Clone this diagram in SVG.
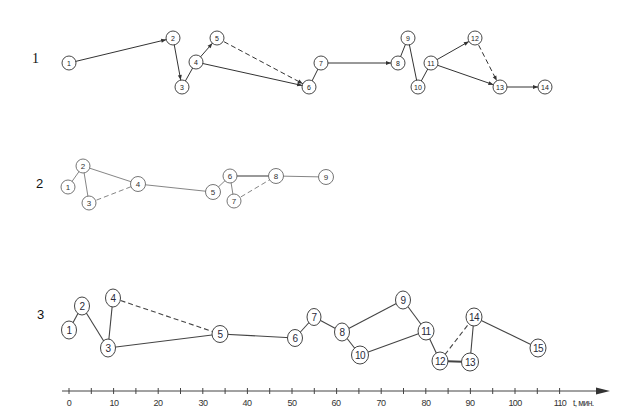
<svg xmlns="http://www.w3.org/2000/svg" width="624" height="419" viewBox="0 0 624 419">
<style>
.bg{fill:#fff}
.n1 circle{fill:#fff;stroke:#333;stroke-width:0.9}
.n1 text{font-family:"Liberation Sans",Arial,sans-serif;font-size:7px;fill:#222;text-anchor:middle;dominant-baseline:central}
.n2 circle{fill:#fff;stroke:#666;stroke-width:0.9}
.n2 text{font-family:"Liberation Sans",Arial,sans-serif;font-size:8px;fill:#333;text-anchor:middle;dominant-baseline:central}
.n3 ellipse{fill:#fff;stroke:#444;stroke-width:1}
.n3 text{font-family:"Liberation Sans",Arial,sans-serif;font-size:10px;fill:#2a2a3a;text-anchor:middle;dominant-baseline:central;letter-spacing:-0.5px}
.e1{stroke:#333;stroke-width:1;fill:none}
.e2{stroke:#777;stroke-width:0.9;fill:none}
.e3{stroke:#444;stroke-width:1.1;fill:none}
.d{stroke-dasharray:5,3}
.ax{stroke:#444;stroke-width:1;fill:none}
.tk{stroke:#444;stroke-width:1}
.al{font-family:"Liberation Sans",Arial,sans-serif;font-size:9px;fill:#333;text-anchor:middle;letter-spacing:-0.6px}
.row{font-family:"Liberation Sans",Arial,sans-serif;font-size:13px;fill:#111}
</style>
<defs>
<marker id="a1" markerUnits="userSpaceOnUse" markerWidth="16" markerHeight="8" refX="12" refY="2" orient="auto" overflow="visible">
<path d="M0,0 L5,2 L0,4 z" fill="#333"/>
</marker>
<marker id="ax" markerUnits="userSpaceOnUse" markerWidth="20" markerHeight="10" refX="0" refY="3.5" orient="auto" overflow="visible">
<path d="M0,0 L14,3.5 L0,7 z" fill="#333"/>
</marker>
</defs>
<rect class="bg" x="0" y="0" width="624" height="419"/>

<text class="row" x="32" y="63" style="font-family:'Liberation Serif',serif;font-size:14px">1</text>
<text class="row" x="36" y="188">2</text>
<text class="row" x="37" y="319">3</text>

<g id="connectors">
<!-- row 1 -->
<line class="e1" x1="69" y1="63" x2="173" y2="38" marker-end="url(#a1)"/>
<line class="e1" x1="173" y1="38" x2="182" y2="87" marker-end="url(#a1)"/>
<line class="e1" x1="182" y1="87" x2="196" y2="62"/>
<line class="e1" x1="196" y1="62" x2="217" y2="38" marker-end="url(#a1)"/>
<line class="e1 d" x1="217" y1="38" x2="309" y2="87" marker-end="url(#a1)"/>
<line class="e1" x1="196" y1="62" x2="309" y2="87" marker-end="url(#a1)"/>
<line class="e1" x1="309" y1="87" x2="321" y2="63"/>
<line class="e1" x1="321" y1="63" x2="398" y2="63" marker-end="url(#a1)"/>
<line class="e1" x1="398" y1="63" x2="408" y2="38"/>
<line class="e1" x1="408" y1="38" x2="418" y2="87"/>
<line class="e1" x1="418" y1="87" x2="431" y2="63"/>
<line class="e1" x1="431" y1="63" x2="475" y2="38" marker-end="url(#a1)"/>
<line class="e1 d" x1="475" y1="38" x2="500" y2="87" marker-end="url(#a1)"/>
<line class="e1" x1="431" y1="63" x2="500" y2="87" marker-end="url(#a1)"/>
<line class="e1" x1="500" y1="87" x2="545" y2="87" marker-end="url(#a1)"/>
<!-- row 2 -->
<line class="e2" x1="68" y1="187" x2="83" y2="166"/>
<line class="e2" x1="83" y1="166" x2="89" y2="203"/>
<line class="e2" x1="83" y1="166" x2="138" y2="184"/>
<line class="e2 d" x1="89" y1="203" x2="138" y2="184"/>
<line class="e2" x1="138" y1="184" x2="213" y2="192"/>
<line class="e2" x1="213" y1="192" x2="230" y2="176"/>
<line class="e2" x1="230" y1="176" x2="234" y2="201"/>
<line class="e2" x1="230" y1="176" x2="276" y2="176" style="stroke-width:1.4"/>
<line class="e2 d" x1="234" y1="201" x2="276" y2="176"/>
<line class="e2" x1="276" y1="176" x2="326" y2="177"/>
<!-- row 3 -->
<line class="e3" x1="69" y1="330" x2="82" y2="306"/>
<line class="e3" x1="82" y1="306" x2="108" y2="348"/>
<line class="e3" x1="108" y1="348" x2="113" y2="298"/>
<line class="e3 d" x1="113" y1="298" x2="220" y2="334"/>
<line class="e3" x1="108" y1="348" x2="220" y2="334"/>
<line class="e3" x1="220" y1="334" x2="295" y2="338"/>
<line class="e3" x1="295" y1="338" x2="314" y2="317"/>
<line class="e3" x1="314" y1="317" x2="342" y2="332"/>
<line class="e3" x1="342" y1="332" x2="403" y2="300"/>
<line class="e3" x1="342" y1="332" x2="360" y2="355"/>
<line class="e3" x1="360" y1="355" x2="426" y2="331"/>
<line class="e3" x1="403" y1="300" x2="426" y2="331"/>
<line class="e3" x1="426" y1="331" x2="440" y2="361"/>
<line class="e3 d" x1="440" y1="361" x2="474" y2="317"/>
<line class="e3" x1="440" y1="361" x2="470" y2="362" style="stroke-width:1.8"/>
<line class="e3" x1="470" y1="362" x2="474" y2="317"/>
<line class="e3" x1="474" y1="317" x2="538" y2="348"/>
</g>

<g class="n1">
<g id="r1n1"><circle cx="69" cy="63" r="7"/><text x="69" y="63">1</text></g>
<g id="r1n2"><circle cx="173" cy="38" r="7"/><text x="173" y="38">2</text></g>
<g id="r1n3"><circle cx="182" cy="87" r="7"/><text x="182" y="87">3</text></g>
<g id="r1n4"><circle cx="196" cy="62" r="7"/><text x="196" y="62">4</text></g>
<g id="r1n5"><circle cx="217" cy="38" r="7"/><text x="217" y="38">5</text></g>
<g id="r1n6"><circle cx="309" cy="87" r="7"/><text x="309" y="87">6</text></g>
<g id="r1n7"><circle cx="321" cy="63" r="7"/><text x="321" y="63">7</text></g>
<g id="r1n8"><circle cx="398" cy="63" r="7"/><text x="398" y="63">8</text></g>
<g id="r1n9"><circle cx="408" cy="38" r="7"/><text x="408" y="38">9</text></g>
<g id="r1n10"><circle cx="418" cy="87" r="7"/><text x="418" y="87">10</text></g>
<g id="r1n11"><circle cx="431" cy="63" r="7"/><text x="431" y="63">11</text></g>
<g id="r1n12"><circle cx="475" cy="38" r="7"/><text x="475" y="38">12</text></g>
<g id="r1n13"><circle cx="500" cy="87" r="7"/><text x="500" y="87">13</text></g>
<g id="r1n14"><circle cx="545" cy="87" r="7"/><text x="545" y="87">14</text></g>
</g>

<g class="n2">
<g id="r2n1"><circle cx="68" cy="187" r="7"/><text x="68" y="187">1</text></g>
<g id="r2n2"><circle cx="83" cy="166" r="7"/><text x="83" y="166">2</text></g>
<g id="r2n3"><circle cx="89" cy="203" r="7"/><text x="89" y="203">3</text></g>
<g id="r2n4"><circle cx="138" cy="184" r="7.5"/><text x="138" y="184">4</text></g>
<g id="r2n5"><circle cx="213" cy="192" r="7.5"/><text x="213" y="192">5</text></g>
<g id="r2n6"><circle cx="230" cy="176" r="7"/><text x="230" y="176">6</text></g>
<g id="r2n7"><circle cx="234" cy="201" r="7"/><text x="234" y="201">7</text></g>
<g id="r2n8"><circle cx="276" cy="176" r="7.5"/><text x="276" y="176">8</text></g>
<g id="r2n9"><circle cx="326" cy="177" r="7.5"/><text x="326" y="177">9</text></g>
</g>

<g class="n3">
<g id="r3n1"><ellipse cx="69" cy="330" rx="7.5" ry="9"/><text x="69" y="330">1</text></g>
<g id="r3n2"><ellipse cx="82" cy="306" rx="7.5" ry="9"/><text x="82" y="306">2</text></g>
<g id="r3n3"><ellipse cx="108" cy="348" rx="7.5" ry="9"/><text x="108" y="348">3</text></g>
<g id="r3n4"><ellipse cx="113" cy="298" rx="7.5" ry="9"/><text x="113" y="298">4</text></g>
<g id="r3n5"><ellipse cx="220" cy="334" rx="8" ry="8.5"/><text x="220" y="334">5</text></g>
<g id="r3n6"><ellipse cx="295" cy="338" rx="7.5" ry="8.5"/><text x="295" y="338">6</text></g>
<g id="r3n7"><ellipse cx="314" cy="317" rx="7" ry="8.5"/><text x="314" y="317">7</text></g>
<g id="r3n8"><ellipse cx="342" cy="332" rx="7.5" ry="9"/><text x="342" y="332">8</text></g>
<g id="r3n9"><ellipse cx="403" cy="300" rx="7.5" ry="9"/><text x="403" y="300">9</text></g>
<g id="r3n10"><ellipse cx="360" cy="355" rx="8.5" ry="9"/><text x="360" y="355">10</text></g>
<g id="r3n11"><ellipse cx="426" cy="331" rx="8" ry="9"/><text x="426" y="331">11</text></g>
<g id="r3n12"><ellipse cx="440" cy="361" rx="8" ry="9"/><text x="440" y="361">12</text></g>
<g id="r3n13"><ellipse cx="470" cy="362" rx="8.5" ry="9"/><text x="470" y="362">13</text></g>
<g id="r3n14"><ellipse cx="474" cy="317" rx="8" ry="9"/><text x="474" y="317">14</text></g>
<g id="r3n15"><ellipse cx="538" cy="348" rx="8" ry="9"/><text x="538" y="348">15</text></g>
</g>

<g id="axis">
<line class="ax" x1="62" y1="391" x2="596" y2="391" marker-end="url(#ax)"/>
<g class="tk">
<line x1="69" y1="388" x2="69" y2="394"/><line x1="91.3" y1="388" x2="91.3" y2="394"/>
<line x1="113.6" y1="388" x2="113.6" y2="394"/><line x1="135.9" y1="388" x2="135.9" y2="394"/>
<line x1="158.2" y1="388" x2="158.2" y2="394"/><line x1="180.5" y1="388" x2="180.5" y2="394"/>
<line x1="202.8" y1="388" x2="202.8" y2="394"/><line x1="225.1" y1="388" x2="225.1" y2="394"/>
<line x1="247.4" y1="388" x2="247.4" y2="394"/><line x1="269.7" y1="388" x2="269.7" y2="394"/>
<line x1="292" y1="388" x2="292" y2="394"/><line x1="314.3" y1="388" x2="314.3" y2="394"/>
<line x1="336.6" y1="388" x2="336.6" y2="394"/><line x1="358.9" y1="388" x2="358.9" y2="394"/>
<line x1="381.2" y1="388" x2="381.2" y2="394"/><line x1="403.5" y1="388" x2="403.5" y2="394"/>
<line x1="425.8" y1="388" x2="425.8" y2="394"/><line x1="448.1" y1="388" x2="448.1" y2="394"/>
<line x1="470.4" y1="388" x2="470.4" y2="394"/><line x1="492.7" y1="388" x2="492.7" y2="394"/>
<line x1="515" y1="388" x2="515" y2="394"/><line x1="537.3" y1="388" x2="537.3" y2="394"/>
<line x1="559.6" y1="388" x2="559.6" y2="394"/>
</g>
<text class="al" x="69" y="406">0</text>
<text class="al" x="114" y="406">10</text>
<text class="al" x="158" y="406">20</text>
<text class="al" x="203" y="406">30</text>
<text class="al" x="247" y="406">40</text>
<text class="al" x="292" y="406">50</text>
<text class="al" x="336" y="406">60</text>
<text class="al" x="381" y="406">70</text>
<text class="al" x="426" y="406">80</text>
<text class="al" x="470" y="406">90</text>
<text class="al" x="515" y="406">100</text>
<text class="al" x="560" y="406">110</text>
<text class="al" x="573" y="406" style="text-anchor:start;font-size:8.5px">t, мин.</text>
</g>
</svg>
